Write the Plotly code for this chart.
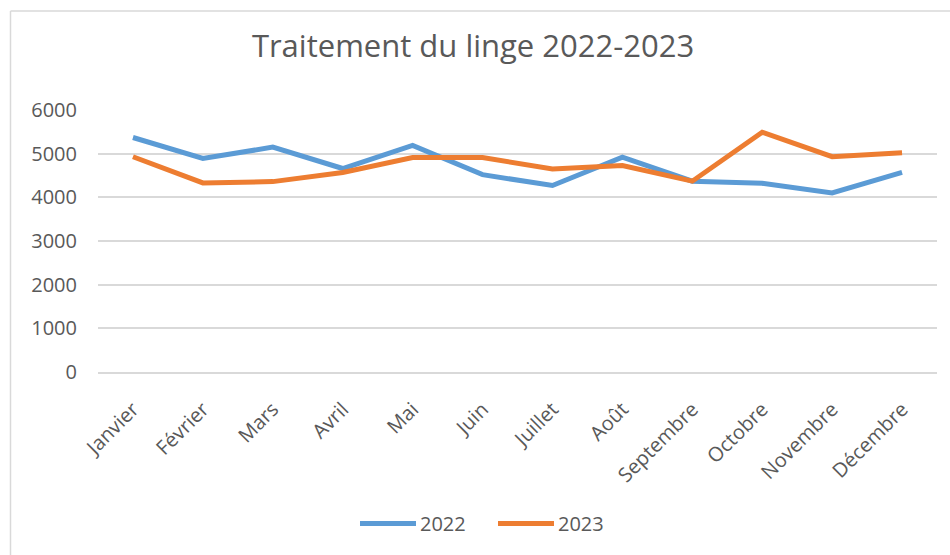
import plotly.graph_objects as go

months = ["Janvier", "Février", "Mars", "Avril", "Mai", "Juin", "Juillet",
          "Août", "Septembre", "Octobre", "Novembre", "Décembre"]
values_2022 = [5370, 4890, 5150, 4660, 5190, 4520, 4270, 4920, 4370, 4320, 4100, 4570]
values_2023 = [4930, 4330, 4360, 4570, 4910, 4910, 4650, 4730, 4370, 5490, 4930, 5020]
y_ticks = [0, 1000, 2000, 3000, 4000, 5000, 6000]

title_text = "Traitement du linge 2022-2023"
blue = "#5B9BD5"
orange = "#ED7D31"
text_col = "#595959"
grid_col = "#D9D9D9"
font_family = "Open Sans"

W, H = 950, 555
L, R, T, B = 98, 13, 110, 183
pw, ph = W - L - R, H - T - B

def px_x(x):
    return (x - L) / pw

def px_y(y):
    return (H - B - y) / ph

fig = go.Figure()
fig.add_trace(go.Scatter(x=months, y=values_2022, mode="lines", name="2022",
                         line=dict(color=blue, width=5)))
fig.add_trace(go.Scatter(x=months, y=values_2023, mode="lines", name="2023",
                         line=dict(color=orange, width=5)))

shapes = [
    dict(type="line", xref="paper", yref="paper", x0=px_x(10.5), x1=px_x(10.5),
         y0=px_y(11), y1=px_y(600), line=dict(color=grid_col, width=1.5)),
    dict(type="line", xref="paper", yref="paper", x0=px_x(10.5), x1=px_x(1000),
         y0=px_y(11), y1=px_y(11), line=dict(color=grid_col, width=1.5)),
]
annotations = []
legend_items = [("2022", blue, 360), ("2023", orange, 498)]
for name, col, x0 in legend_items:
    shapes.append(dict(type="line", xref="paper", yref="paper",
                       x0=px_x(x0), x1=px_x(x0 + 56), y0=px_y(523.5), y1=px_y(523.5),
                       line=dict(color=col, width=5)))
    annotations.append(dict(xref="paper", yref="paper", x=px_x(x0 + 58), y=px_y(523.5),
                            xanchor="left", yanchor="middle", showarrow=False,
                            text=name, font=dict(family=font_family, size=20, color=text_col)))

fig.update_layout(
    width=W, height=H,
    margin=dict(l=L, r=R, t=T, b=B),
    paper_bgcolor="white", plot_bgcolor="white",
    showlegend=False,
    title=dict(text=title_text, x=473 / W, xanchor="center",
               y=1 - 46 / H, yanchor="middle", yref="container",
               font=dict(family=font_family, size=31, color=text_col)),
    shapes=shapes,
    annotations=annotations,
    font=dict(family=font_family, color=text_col),
)
fig.update_xaxes(
    type="category", range=[-0.5, len(months) - 0.5], tickangle=-45, showgrid=False,
    showline=True, linecolor=grid_col, linewidth=1.5,
    ticks="", ticklabelstandoff=16,
    tickfont=dict(family=font_family, size=20, color=text_col),
)
fig.update_yaxes(
    range=[0, 6000], tickvals=y_ticks, showgrid=True, gridcolor=grid_col, gridwidth=1.5,
    zeroline=False, ticks="", ticklabelstandoff=20,
    tickfont=dict(family=font_family, size=20, color=text_col),
)

fig.write_html("out.html")
